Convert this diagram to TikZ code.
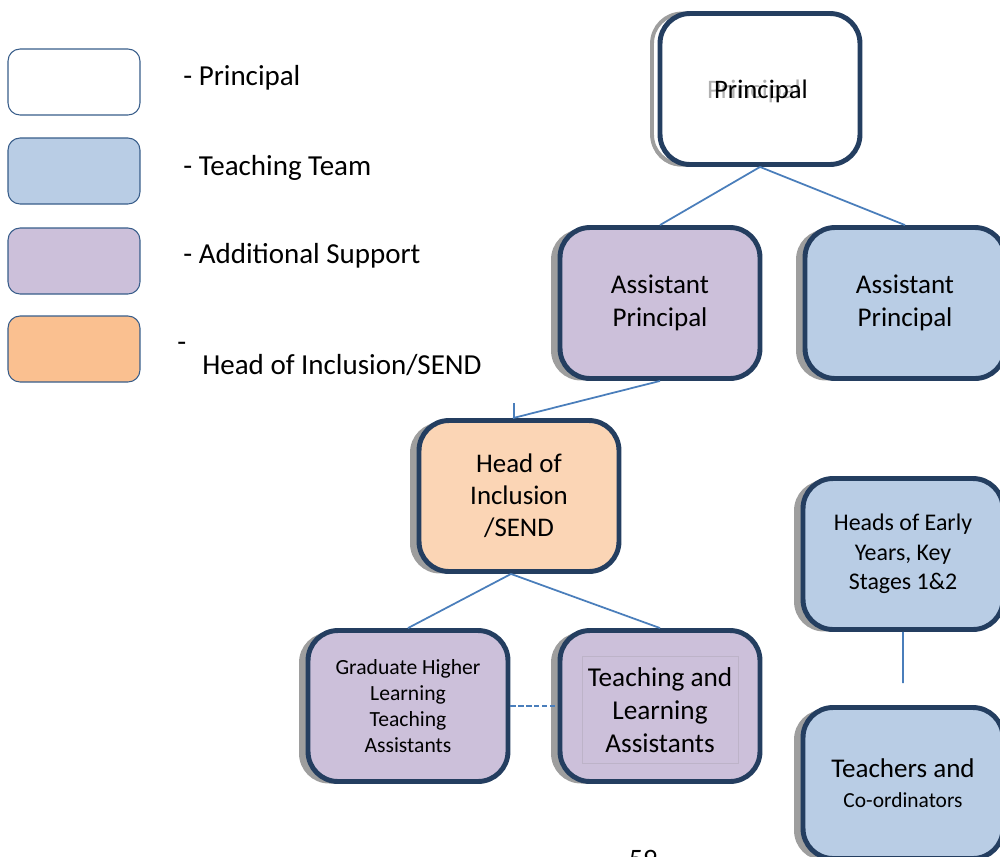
\documentclass[tikz,border=0pt]{standalone}
\usepackage{fontspec}
\setmainfont{Carlito}
\usetikzlibrary{shadows}

\definecolor{boxline}{RGB}{36,62,96}
\definecolor{linkblue}{RGB}{74,126,187}
\definecolor{legline}{RGB}{56,93,138}
\definecolor{teachblue}{RGB}{185,205,229}
\definecolor{supportpurple}{RGB}{204,192,218}
\definecolor{inclpeach}{RGB}{251,213,181}
\definecolor{legorange}{RGB}{250,192,144}
\definecolor{shadowgrey}{RGB}{158,158,158}

\begin{document}
\begin{tikzpicture}[x=0.02cm,y=-0.02cm,
  box/.style={rectangle,rounded corners=0.6cm,draw=boxline,line width=2.8pt,
    minimum width=4cm,minimum height=3.02cm,align=center,
    font=\fontsize{15.4}{18.7}\selectfont,
    general shadow={fill=shadowgrey,shadow xshift=-0.18cm,shadow yshift=-0.04cm}},
  legend box/.style={rectangle,rounded corners=0.24cm,draw=legline,line width=0.6pt,
    minimum width=2.64cm,minimum height=1.32cm},
  legend text/.style={anchor=base west,inner sep=0pt,font=\fontsize{16.5}{19}\selectfont},
  link/.style={draw=linkblue,line width=1pt}]

  \useasboundingbox (0,0) rectangle (1000,856);

  % legend
  \node[legend box,fill=white] (lgprin) at (74,82) {};
  \node[legend box,fill=teachblue] (lgteach) at (74,171) {};
  \node[legend box,fill=supportpurple] (lgsupp) at (74,261) {};
  \node[legend box,fill=legorange] (lgincl) at (74,349) {};
  \node[legend text] (lgprintxt) at (183,85) {- Principal};
  \node[legend text] (lgteachtxt) at (183,175) {- Teaching Team};
  \node[legend text] (lgsupptxt) at (183,263) {- Additional Support};
  \node[legend text] (lgdash) at (177,351) {-};
  \node[legend text] (lgincltxt) at (202,374) {Head of Inclusion/SEND};

  % chart
  \node[box,fill=white,general shadow={draw=shadowgrey,line width=2.2pt,fill=white,
    shadow xshift=-0.16cm,shadow yshift=0cm}] (prin) at (760,89) {};
  \node[text=shadowgrey!80,font=\fontsize{15.2}{18.7}\selectfont] (pringhost) at (754,91) {Principal};
  \node[font=\fontsize{15.2}{18.7}\selectfont] (printxt) at (761,91) {Principal};

  \node[box,fill=supportpurple] (apsupp) at (660,303) {Assistant\\Principal};
  \node[box,fill=teachblue] (apteach) at (905,303) {Assistant\\Principal};
  \node[box,fill=inclpeach,font=\fontsize{15.3}{18.1}\selectfont] (incl) at (519,496) {Head of\\Inclusion\\/SEND};
  \node[box,fill=supportpurple,font=\fontsize{12.3}{14.7}\selectfont] (hlta) at (408,706)
    {Graduate Higher\\Learning\\Teaching\\Assistants};
  \node[box,fill=supportpurple] (tla) at (660,706) {};
  \node[draw=supportpurple!80!gray,line width=0.3pt,minimum width=3.1cm,minimum height=2.14cm,
    align=center,font=\fontsize{15.5}{18.7}\selectfont] (tlatxt) at (660,710) {Teaching and\\Learning\\Assistants};
  \node[box,fill=teachblue,font=\fontsize{13.6}{16.7}\selectfont] (heads) at (903,554)
    {Heads of Early\\Years, Key\\Stages 1\&2};
  \node[box,fill=teachblue,font=\fontsize{15.4}{17}\selectfont] (teach) at (903,783)
    {Teachers and\\{\fontsize{12.2}{14}\selectfont Co-ordinators}};

  \coordinate (tick) at (514,403);
  \coordinate (headsend) at (903,683);

  \path[link] (prin.south) -- (apsupp.north)
    (prin.south) -- (apteach.north)
    (apsupp.south) -- ([xshift=-0.12cm]incl.north)
    (tick) -- ([xshift=-0.1cm]incl.north)
    ([xshift=-0.16cm]incl.south) -- (hlta.north)
    ([xshift=-0.16cm]incl.south) -- (tla.north)
    (heads.south) -- (headsend);
  \draw[link,dash pattern=on 3pt off 1.5pt] (hlta.east) -- (tla.west);

  \node[anchor=base,font=\fontsize{16}{19}\selectfont] (pagenum) at (643,868) {59};
\end{tikzpicture}
\end{document}
